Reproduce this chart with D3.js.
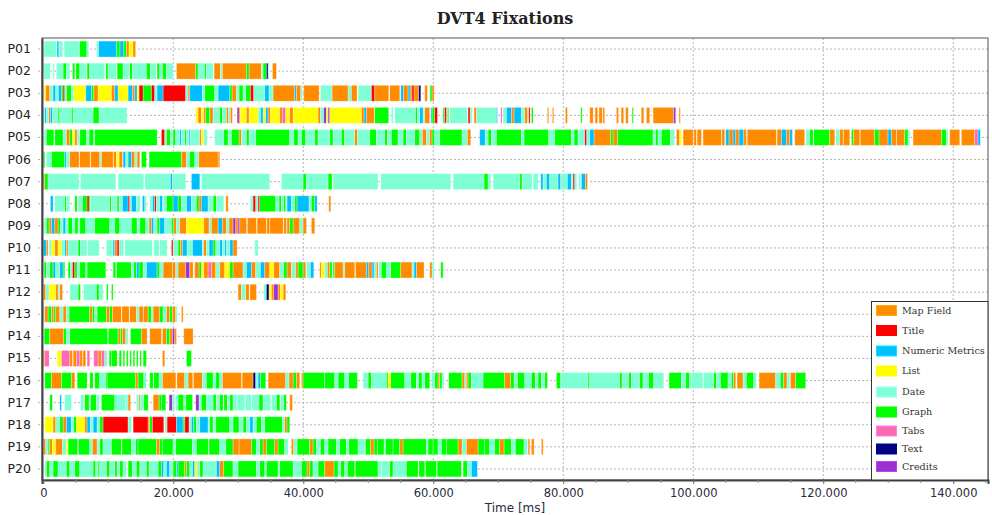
<!DOCTYPE html>
<html>
<head>
<meta charset="utf-8">
<script src="https://cdn.jsdelivr.net/npm/d3@7"></script>
<style>
  body { margin: 0; background: #fff; }
  svg text { fill: #222; }
</style>
</head>
<body>
<div id="chart"></div>
<script>
// fixation segments per participant: [start s, end s, area code]
var p01 = [[0.1,2.0,"D"],[2.1,2.4,"N"],[2.4,3.0,"D"],[3.2,5.6,"D"],[5.6,6.7,"G"],[6.7,7.0,"D"],[8.2,8.5,"D"],[8.5,11.3,"N"],[11.3,11.8,"G"],[11.8,12.4,"N"],[12.4,12.8,"G"],[12.8,13.2,"M"],[13.2,13.8,"L"],[13.8,14.2,"M"]];
var p02 = [[0.1,1.1,"D"],[1.5,1.7,"D"],[2.0,3.05,"D"],[3.05,3.56,"G"],[3.56,4.08,"D"],[4.49,4.85,"G"],[5.0,5.62,"G"],[5.62,6.64,"D"],[6.74,7.15,"G"],[7.15,9.46,"D"],[9.62,9.97,"G"],[9.97,11.26,"D"],[11.36,12.28,"G"],[12.28,13.2,"D"],[13.3,13.72,"G"],[13.72,15.87,"D"],[15.87,16.49,"G"],[16.49,17.41,"D"],[17.51,17.92,"G"],[17.92,18.33,"D"],[18.33,18.95,"G"],[18.95,19.97,"D"],[20.49,23.46,"M"],[23.46,23.82,"G"],[23.82,24.85,"D"],[24.85,25.1,"G"],[25.1,26.13,"D"],[26.28,27.26,"M"],[27.26,27.56,"D"],[27.56,31.26,"M"],[31.26,31.67,"G"],[31.67,33.56,"M"],[33.56,33.82,"D"],[33.82,34.33,"G"],[34.33,34.59,"X"],[34.59,34.74,"D"],[35.26,35.87,"M"]];
var p03 = [[0.13,0.38,"L"],[0.38,1.0,"M"],[1.0,1.51,"D"],[1.51,1.92,"N"],[1.92,2.33,"D"],[2.33,2.79,"N"],[2.79,3.05,"G"],[3.05,3.31,"T"],[3.31,3.56,"D"],[3.56,4.33,"G"],[4.33,4.69,"D"],[4.69,6.54,"L"],[6.54,7.41,"N"],[7.41,7.77,"G"],[7.77,8.44,"M"],[8.44,10.49,"L"],[10.49,11.0,"M"],[11.0,11.51,"N"],[11.51,13.05,"L"],[13.05,13.72,"N"],[13.72,14.08,"M"],[14.08,14.44,"N"],[14.44,14.74,"L"],[14.74,15.36,"T"],[15.36,16.64,"G"],[16.64,17.15,"T"],[17.15,17.51,"D"],[17.51,18.44,"N"],[18.44,21.92,"T"],[21.92,22.28,"D"],[22.28,22.54,"M"],[22.54,24.49,"N"],[24.49,24.85,"D"],[24.85,26.38,"G"],[26.38,26.9,"D"],[26.9,28.69,"N"],[28.69,29.05,"G"],[29.05,29.72,"M"],[29.72,30.13,"D"],[30.13,30.74,"G"],[30.74,31.15,"D"],[31.15,31.87,"G"],[31.87,32.38,"T"],[32.38,34.08,"D"],[34.08,34.74,"N"],[34.74,35.36,"D"],[35.36,38.69,"M"],[38.69,38.95,"N"],[38.95,39.62,"M"],[39.62,39.87,"D"],[40.08,42.44,"M"],[42.64,44.44,"D"],[44.44,46.9,"M"],[46.9,47.41,"D"],[47.41,48.28,"M"],[48.44,50.49,"D"],[50.49,51.0,"T"],[51.0,53.15,"M"],[53.31,54.85,"M"],[55.0,55.41,"N"],[55.41,56.13,"M"],[56.13,56.44,"N"],[56.44,56.74,"M"],[56.74,57.05,"T"],[57.05,57.77,"M"],[57.77,58.08,"X"],[58.69,59.1,"M"],[59.51,59.82,"G"],[59.82,60.13,"M"]];
var p04 = [[0.0,0.23,"D"],[0.23,0.49,"N"],[0.49,0.85,"D"],[0.85,1.1,"M"],[1.1,1.41,"N"],[1.41,2.28,"D"],[2.28,2.54,"G"],[2.54,4.33,"D"],[4.33,4.59,"G"],[4.59,7.67,"D"],[7.67,8.59,"G"],[8.59,12.9,"D"],[23.46,23.82,"L"],[23.82,24.33,"M"],[24.33,24.69,"L"],[24.69,25.0,"M"],[25.0,25.62,"G"],[25.62,26.13,"M"],[26.13,27.15,"D"],[27.15,27.56,"G"],[27.56,28.18,"D"],[28.18,28.49,"M"],[28.49,28.79,"D"],[28.79,29.1,"M"],[29.82,30.13,"C"],[30.13,30.33,"M"],[30.33,31.26,"L"],[31.26,31.67,"M"],[31.67,33.05,"L"],[33.05,33.41,"D"],[33.41,33.82,"N"],[33.82,34.23,"L"],[34.23,34.59,"N"],[34.59,34.95,"M"],[34.95,36.38,"L"],[36.38,36.79,"M"],[36.79,37.31,"B"],[37.31,37.92,"L"],[37.92,38.44,"M"],[38.44,42.28,"L"],[42.28,42.64,"M"],[42.64,43.15,"D"],[43.15,43.56,"C"],[43.56,43.82,"L"],[43.82,44.08,"C"],[44.08,48.95,"L"],[48.95,49.36,"M"],[49.36,49.72,"N"],[49.72,50.9,"M"],[51.0,53.15,"G"],[53.56,53.82,"D"],[54.08,57.26,"D"],[57.26,57.56,"G"],[57.56,57.92,"D"],[57.92,58.44,"N"],[58.44,58.69,"D"],[58.69,59.46,"M"],[59.62,59.82,"N"],[59.82,60.23,"G"],[60.23,60.64,"T"],[61.51,61.77,"G"],[61.77,62.03,"T"],[62.18,62.38,"G"],[62.54,65.26,"D"],[65.36,65.67,"T"],[65.67,65.97,"D"],[66.28,66.64,"M"],[66.64,69.72,"D"],[69.72,69.87,"N"],[70.38,70.59,"B"],[70.74,71.26,"D"],[71.26,72.03,"N"],[72.03,72.44,"M"],[72.44,73.56,"N"],[73.56,74.08,"D"],[74.08,74.49,"M"],[74.69,74.9,"T"],[75.1,75.36,"G"],[77.56,77.77,"M"],[78.33,78.54,"M"],[80.33,80.64,"M"],[82.69,82.9,"G"],[84.08,84.6,"M"],[84.9,85.3,"M"],[85.5,86.0,"M"],[86.1,86.38,"M"],[88.18,88.5,"M"],[88.9,89.3,"M"],[89.6,90.0,"M"],[90.59,90.79,"G"],[92.0,92.4,"M"],[92.8,93.3,"M"],[93.82,96.99,"M"],[96.99,97.3,"C"],[97.82,98.02,"M"]];
var p05 = [[0.13,0.49,"D"],[0.49,1.62,"G"],[1.77,3.05,"G"],[3.05,3.56,"D"],[3.56,4.08,"M"],[4.08,4.49,"G"],[4.49,4.85,"L"],[4.85,5.21,"M"],[5.21,5.51,"D"],[5.62,6.64,"G"],[6.74,7.05,"D"],[7.05,7.77,"G"],[7.77,7.92,"D"],[7.92,17.51,"G"],[18.18,18.69,"T"],[18.69,18.95,"D"],[18.95,19.56,"G"],[19.56,19.97,"D"],[19.97,20.38,"G"],[20.38,21.0,"D"],[21.0,21.26,"N"],[21.26,21.77,"D"],[21.77,22.03,"G"],[22.03,22.44,"D"],[22.44,22.64,"N"],[22.64,24.08,"D"],[24.08,24.33,"M"],[24.33,24.69,"L"],[24.69,25.21,"D"],[26.38,27.77,"D"],[27.77,28.44,"G"],[28.44,28.95,"D"],[28.95,30.13,"G"],[30.13,30.49,"M"],[30.49,31.26,"D"],[31.26,31.67,"G"],[31.67,32.69,"D"],[32.69,37.92,"G"],[37.92,38.54,"D"],[38.54,39.21,"G"],[39.21,39.72,"D"],[39.72,40.38,"G"],[40.38,41.77,"D"],[41.77,42.28,"G"],[42.28,44.08,"D"],[44.08,44.59,"G"],[44.59,45.87,"D"],[45.87,46.38,"G"],[46.38,47.92,"D"],[47.92,48.33,"M"],[48.33,50.23,"D"],[50.23,51.26,"G"],[51.26,52.54,"D"],[52.54,52.95,"G"],[52.95,53.56,"D"],[53.56,54.59,"G"],[54.59,55.36,"D"],[55.36,55.87,"G"],[55.87,57.15,"D"],[57.15,57.92,"G"],[57.92,58.33,"D"],[58.33,58.95,"M"],[58.95,59.46,"D"],[59.46,59.82,"M"],[59.82,60.23,"G"],[60.23,61.0,"D"],[61.0,64.44,"G"],[64.44,65.26,"D"],[65.26,65.77,"M"],[67.15,68.0,"N"],[68.0,68.44,"D"],[68.44,68.95,"G"],[68.95,69.72,"D"],[69.72,73.56,"G"],[73.56,73.97,"D"],[73.97,77.77,"G"],[77.77,78.69,"D"],[78.69,81.26,"G"],[81.26,81.67,"D"],[81.67,82.28,"G"],[82.28,83.31,"D"],[83.31,83.62,"T"],[83.62,84.08,"D"],[84.08,84.74,"N"],[84.74,87.31,"M"],[87.31,87.67,"G"],[87.67,88.33,"M"],[88.33,93.82,"G"],[93.82,94.23,"D"],[94.23,94.59,"G"],[94.59,95.1,"D"],[95.1,96.49,"G"],[96.49,97.15,"D"],[97.41,97.92,"M"],[97.92,98.18,"L"],[98.44,99.98,"M"],[100.1,100.49,"M"],[100.6,101.26,"M"],[101.51,104.33,"M"],[104.4,104.85,"M"],[105.0,105.51,"N"],[105.51,106.13,"M"],[106.13,106.54,"N"],[106.54,107.05,"M"],[107.05,107.77,"N"],[107.77,108.18,"M"],[108.3,112.79,"M"],[112.9,113.56,"M"],[113.56,114.33,"N"],[114.33,114.85,"M"],[114.85,115.26,"N"],[115.62,117.15,"M"],[117.31,117.92,"D"],[117.92,118.44,"G"],[118.54,121.0,"G"],[121.0,121.77,"M"],[121.92,122.54,"D"],[122.54,123.05,"M"],[123.1,124.08,"M"],[124.33,124.69,"G"],[124.69,125.62,"M"],[125.7,127.92,"M"],[127.92,128.59,"G"],[128.59,129.97,"M"],[129.97,130.49,"N"],[130.49,131.26,"M"],[131.3,132.54,"M"],[132.54,133.05,"G"],[133.05,133.31,"D"],[133.82,138.18,"M"],[138.18,138.95,"G"],[138.95,139.21,"D"],[139.46,141.0,"M"],[141.26,143.31,"M"],[143.31,143.82,"B"],[143.82,144.18,"N"]];
var p06 = [[0.0,0.23,"G"],[0.49,1.26,"D"],[1.26,3.31,"G"],[3.31,3.56,"N"],[3.56,4.08,"D"],[4.08,5.5,"M"],[5.6,7.2,"M"],[7.3,8.69,"M"],[8.69,8.95,"D"],[8.95,10.74,"M"],[10.8,11.26,"M"],[11.26,11.67,"L"],[11.67,12.18,"M"],[12.28,12.69,"N"],[12.69,13.05,"D"],[13.05,13.56,"N"],[13.56,14.08,"M"],[14.08,14.44,"D"],[14.44,14.85,"M"],[15.1,15.87,"G"],[16.28,21.26,"G"],[21.26,22.03,"M"],[22.03,22.54,"D"],[22.54,23.31,"G"],[23.31,23.92,"D"],[23.92,26.9,"M"],[26.9,27.15,"M"]];
var p07 = [[0.0,0.23,"M"],[0.23,0.74,"G"],[0.74,5.51,"D"],[5.72,11.15,"D"],[11.51,15.46,"D"],[15.62,19.56,"D"],[19.56,19.87,"N"],[19.87,21.92,"D"],[22.79,24.08,"N"],[24.33,34.85,"D"],[36.64,39.97,"D"],[39.97,40.49,"G"],[40.49,43.82,"D"],[43.82,44.44,"G"],[44.59,51.51,"D"],[51.92,62.69,"D"],[63.05,67.82,"D"],[67.82,68.44,"G"],[68.44,68.85,"D"],[69.21,73.31,"D"],[73.31,73.67,"G"],[73.67,75.21,"D"],[75.36,76.13,"D"],[76.54,76.9,"N"],[76.9,77.41,"D"],[77.41,77.92,"N"],[77.92,79.2,"D"],[79.2,79.61,"N"],[79.61,80.64,"D"],[80.64,81.26,"N"],[81.26,81.51,"D"],[81.51,81.77,"T"],[81.77,82.08,"D"],[82.38,82.69,"D"],[82.79,83.41,"N"],[83.41,83.72,"M"]];
var p08 = [[1.1,1.51,"N"],[1.77,3.31,"D"],[3.31,3.56,"G"],[3.56,4.08,"D"],[4.85,5.21,"G"],[5.36,6.03,"D"],[6.03,6.74,"G"],[6.74,7.05,"T"],[7.05,7.26,"G"],[7.26,10.23,"D"],[10.23,10.49,"G"],[10.49,11.36,"D"],[11.36,11.67,"G"],[11.67,12.18,"D"],[12.18,13.05,"N"],[13.05,13.31,"T"],[13.31,13.56,"D"],[13.56,14.33,"N"],[14.33,14.95,"D"],[15.26,15.62,"N"],[15.62,15.87,"D"],[16.38,16.79,"D"],[16.79,17.15,"N"],[17.15,17.41,"T"],[17.41,17.92,"D"],[17.92,18.33,"N"],[18.44,18.95,"D"],[18.95,19.97,"G"],[19.97,20.74,"N"],[20.74,21.26,"G"],[21.26,22.03,"D"],[22.03,22.79,"N"],[22.79,23.56,"D"],[23.56,23.97,"G"],[23.97,24.33,"M"],[24.33,25.36,"N"],[25.36,26.13,"D"],[26.13,26.64,"G"],[26.64,27.77,"D"],[28.08,28.44,"M"],[31.87,32.28,"D"],[32.28,32.69,"T"],[32.69,33.05,"D"],[33.05,33.31,"T"],[33.31,35.77,"G"],[35.77,36.28,"D"],[36.28,36.64,"G"],[36.64,37.0,"D"],[37.0,37.31,"G"],[37.31,37.51,"D"],[37.51,38.18,"N"],[38.18,38.69,"D"],[38.69,39.05,"G"],[39.05,40.9,"N"],[40.9,41.26,"D"],[41.26,41.77,"G"],[41.77,42.13,"N"],[43.92,44.23,"M"]];
var p09 = [[0.13,0.49,"D"],[0.49,0.9,"G"],[0.9,1.26,"M"],[1.26,1.77,"N"],[1.77,2.28,"M"],[2.28,2.64,"G"],[2.64,3.05,"D"],[3.05,3.46,"N"],[3.46,3.82,"D"],[3.82,4.49,"G"],[4.49,4.85,"D"],[4.85,5.36,"G"],[5.36,5.62,"D"],[5.62,6.54,"G"],[6.54,7.92,"D"],[7.92,10.23,"G"],[10.23,11.0,"D"],[11.0,11.77,"G"],[11.77,13.56,"D"],[13.56,14.44,"G"],[14.44,14.85,"D"],[14.85,15.77,"G"],[15.77,16.28,"D"],[16.28,16.64,"M"],[16.64,17.0,"N"],[17.0,17.51,"D"],[17.51,17.92,"G"],[17.92,18.69,"N"],[18.69,19.72,"D"],[19.72,20.08,"G"],[20.08,20.49,"M"],[20.49,21.0,"D"],[21.0,22.03,"M"],[22.03,24.69,"L"],[24.69,25.51,"M"],[25.51,25.87,"D"],[25.87,26.9,"M"],[26.9,27.56,"N"],[27.56,28.18,"M"],[28.18,28.59,"D"],[28.59,29.2,"M"],[29.2,29.62,"C"],[29.62,29.97,"M"],[29.97,30.23,"C"],[30.23,31.26,"M"],[31.4,32.8,"M"],[32.9,34.33,"M"],[34.4,34.85,"M"],[34.85,36.9,"M"],[37.0,37.41,"M"],[37.5,37.92,"M"],[37.92,38.44,"G"],[38.44,39.46,"M"],[39.46,39.97,"D"],[39.97,40.49,"M"],[41.26,41.77,"M"]];
var p10 = [[0.0,0.49,"N"],[0.49,0.74,"M"],[0.9,1.26,"D"],[1.26,1.77,"L"],[1.77,2.28,"M"],[2.28,2.79,"L"],[2.79,3.31,"D"],[3.31,3.56,"N"],[3.56,3.82,"M"],[3.82,5.36,"D"],[5.36,5.72,"G"],[5.72,6.74,"D"],[6.84,8.59,"D"],[9.72,10.74,"D"],[10.74,11.0,"N"],[11.0,11.36,"M"],[11.36,11.67,"T"],[11.67,12.38,"D"],[12.54,16.79,"D"],[17.0,17.82,"D"],[17.92,19.05,"D"],[19.72,19.97,"T"],[19.97,20.74,"D"],[20.74,21.1,"G"],[21.1,21.41,"M"],[21.41,22.13,"N"],[22.13,22.95,"D"],[22.95,24.49,"N"],[24.49,24.69,"D"],[24.69,25.1,"M"],[25.1,25.51,"D"],[25.51,26.13,"N"],[26.13,26.54,"G"],[26.54,27.15,"D"],[27.15,27.56,"N"],[27.56,27.92,"D"],[27.92,28.18,"N"],[28.18,28.69,"D"],[28.69,29.2,"N"],[29.2,29.82,"M"],[32.54,33.05,"D"]];
var p11 = [[0.13,0.49,"G"],[0.49,1.0,"D"],[1.0,1.51,"G"],[1.51,1.92,"N"],[1.92,2.54,"D"],[2.54,3.05,"N"],[3.05,3.31,"G"],[3.82,4.18,"G"],[4.18,4.49,"D"],[4.49,4.85,"T"],[4.85,5.21,"G"],[5.21,5.62,"D"],[5.62,6.54,"G"],[6.54,6.74,"D"],[6.74,9.62,"G"],[10.74,11.15,"G"],[11.26,13.56,"G"],[13.56,13.92,"D"],[13.92,14.33,"G"],[14.33,14.74,"N"],[14.74,15.36,"G"],[15.36,15.87,"D"],[15.87,17.51,"N"],[17.51,17.92,"G"],[17.92,18.44,"D"],[18.44,19.87,"M"],[19.87,20.38,"M"],[20.38,20.74,"D"],[20.74,21.92,"M"],[21.92,22.54,"C"],[22.54,23.05,"M"],[23.31,23.97,"M"],[23.97,24.33,"G"],[24.33,24.69,"L"],[24.69,25.36,"M"],[25.36,25.87,"B"],[25.87,26.54,"M"],[26.54,27.15,"D"],[27.15,27.92,"M"],[27.92,28.69,"L"],[28.69,29.2,"G"],[29.2,30.74,"M"],[30.74,31.26,"D"],[31.26,32.03,"N"],[32.03,32.69,"M"],[32.69,33.41,"D"],[33.41,34.08,"N"],[34.08,34.85,"M"],[34.85,35.46,"L"],[35.46,36.38,"M"],[36.38,37.0,"D"],[37.0,37.51,"G"],[37.51,38.18,"M"],[38.18,38.85,"D"],[38.85,39.21,"M"],[39.21,39.97,"G"],[39.97,40.38,"M"],[40.49,41.1,"D"],[41.1,41.62,"N"],[42.54,42.79,"M"],[42.79,43.31,"L"],[43.31,43.72,"D"],[43.72,44.08,"M"],[44.08,44.44,"G"],[44.59,44.85,"G"],[44.85,46.13,"M"],[46.13,46.38,"D"],[46.38,47.92,"M"],[48.03,49.72,"M"],[49.72,50.08,"N"],[50.08,50.59,"M"],[50.59,50.9,"N"],[50.9,51.26,"D"],[51.26,51.51,"M"],[51.62,52.03,"D"],[52.03,52.8,"G"],[52.8,53.46,"D"],[53.46,55.0,"G"],[55.0,56.74,"M"],[56.74,57.05,"D"],[57.05,57.41,"N"],[57.41,58.59,"M"],[59.46,59.82,"M"],[59.82,60.13,"D"],[61.15,61.51,"G"]];
var p12 = [[0.0,0.38,"M"],[0.38,0.9,"D"],[0.9,1.92,"L"],[1.92,2.28,"M"],[2.28,2.54,"D"],[2.54,2.95,"M"],[4.08,5.36,"D"],[5.36,5.72,"G"],[6.23,8.18,"D"],[8.18,8.59,"G"],[8.59,9.2,"D"],[9.72,9.97,"G"],[10.49,10.74,"G"],[29.97,30.49,"M"],[30.49,31.15,"D"],[31.15,31.67,"M"],[31.8,32.79,"M"],[33.92,34.33,"D"],[34.33,34.74,"X"],[34.74,35.1,"L"],[35.1,35.46,"M"],[35.46,36.13,"C"],[36.13,36.49,"M"],[36.49,36.9,"L"],[36.9,37.31,"M"]];
var p13 = [[0.0,0.23,"D"],[0.23,0.74,"M"],[0.74,1.26,"G"],[1.26,1.62,"M"],[1.62,1.92,"G"],[1.92,2.54,"M"],[2.54,3.05,"D"],[3.05,3.56,"M"],[3.56,3.97,"D"],[3.97,7.15,"G"],[7.15,7.56,"M"],[7.56,7.92,"G"],[7.92,8.28,"D"],[8.28,9.72,"G"],[9.72,10.23,"M"],[10.23,10.64,"G"],[10.64,12.0,"M"],[12.1,13.2,"M"],[13.3,14.33,"M"],[14.33,14.74,"D"],[14.74,15.36,"M"],[15.4,16.13,"M"],[16.13,16.64,"G"],[16.64,16.9,"D"],[16.9,17.92,"M"],[17.92,18.44,"G"],[18.44,18.95,"D"],[18.95,19.46,"M"],[19.46,19.87,"G"],[19.87,20.38,"M"],[20.38,20.59,"D"],[21.26,21.51,"M"]];
var p14 = [[0.13,1.0,"G"],[1.0,3.15,"M"],[3.15,3.56,"G"],[3.56,4.08,"D"],[4.08,9.9,"G"],[10.0,11.51,"G"],[11.51,11.87,"M"],[11.87,12.18,"G"],[12.18,12.69,"M"],[12.69,13.05,"D"],[13.41,15.1,"G"],[15.1,15.97,"M"],[16.38,18.18,"M"],[18.33,18.95,"M"],[18.95,19.46,"G"],[19.46,19.87,"M"],[19.87,20.23,"C"],[20.23,20.49,"M"],[21.62,23.05,"M"]];
var p15 = [[0.0,0.23,"M"],[0.23,0.9,"B"],[2.13,2.79,"L"],[2.79,4.08,"B"],[4.08,4.49,"M"],[4.6,5.1,"M"],[5.1,5.62,"B"],[5.62,6.03,"M"],[6.1,6.54,"M"],[6.74,7.15,"B"],[7.77,8.44,"B"],[8.44,8.95,"M"],[8.95,9.46,"B"],[9.46,9.82,"D"],[10.13,10.49,"G"],[10.49,11.36,"G"],[11.67,12.03,"G"],[12.28,12.54,"G"],[12.79,13.05,"G"],[13.31,13.56,"G"],[13.82,14.08,"G"],[14.33,14.59,"G"],[14.85,15.1,"G"],[15.36,15.87,"G"],[18.33,18.69,"M"],[22.03,22.79,"G"]];
var p16 = [[0.23,1.26,"G"],[1.26,2.79,"M"],[2.79,4.33,"G"],[4.33,4.85,"M"],[5.21,6.74,"G"],[7.15,7.67,"G"],[7.92,8.69,"G"],[8.69,9.62,"D"],[9.62,9.82,"G"],[9.82,14.23,"G"],[14.23,14.59,"M"],[14.59,15.46,"G"],[15.46,15.87,"D"],[16.38,16.9,"G"],[17.0,17.82,"G"],[17.82,18.33,"D"],[18.33,20.4,"M"],[20.55,21.77,"M"],[21.77,22.28,"D"],[22.28,23.0,"M"],[23.1,24.49,"M"],[24.49,25.1,"D"],[25.1,26.13,"G"],[26.13,26.54,"D"],[26.54,27.15,"G"],[27.15,27.56,"D"],[27.56,30.5,"M"],[30.6,32.28,"M"],[32.28,32.69,"X"],[32.69,33.05,"D"],[33.05,33.41,"N"],[33.41,34.23,"G"],[34.59,37.31,"M"],[37.31,37.82,"D"],[37.82,38.44,"M"],[38.44,38.95,"G"],[38.95,39.46,"M"],[39.72,39.97,"M"],[39.97,43.31,"G"],[43.31,44.85,"G"],[44.85,45.36,"D"],[45.36,46.38,"G"],[46.38,46.98,"D"],[46.98,48.33,"G"],[49.21,49.98,"D"],[49.98,50.49,"G"],[50.49,52.8,"D"],[52.8,53.05,"G"],[53.05,53.46,"L"],[53.46,55.62,"G"],[55.62,56.54,"D"],[56.54,57.41,"G"],[57.41,57.77,"D"],[57.77,58.28,"G"],[58.28,58.69,"D"],[58.69,59.46,"G"],[59.72,60.23,"D"],[60.23,60.74,"G"],[60.74,61.0,"M"],[61.0,61.36,"G"],[61.36,61.67,"D"],[62.38,64.44,"G"],[64.44,64.85,"M"],[64.85,65.1,"D"],[65.1,65.36,"M"],[65.36,65.87,"G"],[65.87,67.67,"D"],[67.67,71.0,"G"],[71.0,71.92,"M"],[71.92,72.44,"G"],[72.44,72.95,"D"],[72.95,74.08,"G"],[74.08,75.1,"D"],[75.1,75.72,"G"],[75.72,76.13,"D"],[76.13,76.64,"G"],[76.64,77.15,"D"],[77.15,77.56,"G"],[78.95,79.61,"G"],[79.61,83.82,"D"],[83.82,84.08,"G"],[84.08,88.69,"D"],[88.69,89.05,"G"],[89.05,90.08,"D"],[90.08,90.49,"G"],[90.49,91.77,"D"],[91.77,92.28,"G"],[92.28,93.15,"D"],[93.15,93.92,"G"],[93.92,95.46,"D"],[96.28,98.18,"G"],[98.18,98.85,"D"],[98.85,99.46,"G"],[99.46,99.72,"D"],[99.72,101.5,"D"],[101.6,103.15,"D"],[103.15,103.56,"G"],[103.56,104.18,"D"],[104.18,105.36,"G"],[105.36,105.87,"D"],[105.87,106.23,"G"],[106.23,106.54,"M"],[106.74,107.67,"M"],[107.67,108.18,"D"],[108.18,109.31,"G"],[109.31,109.72,"D"],[110.13,112.69,"M"],[112.69,113.41,"D"],[113.41,113.92,"G"],[113.92,114.44,"M"],[114.44,114.85,"D"],[114.95,115.77,"M"],[115.77,117.31,"G"]];
var p17 = [[1.0,1.41,"G"],[2.54,2.79,"N"],[3.31,4.33,"D"],[5.72,6.23,"D"],[6.38,7.05,"G"],[7.05,7.26,"D"],[7.26,8.18,"G"],[8.18,8.59,"D"],[8.95,11.0,"G"],[11.0,12.69,"D"],[12.69,13.05,"D"],[13.05,13.41,"M"],[14.33,14.74,"D"],[14.74,14.95,"M"],[14.95,15.46,"D"],[15.46,16.13,"G"],[16.9,17.82,"M"],[17.82,18.18,"G"],[18.18,18.85,"G"],[19.36,19.87,"C"],[19.87,20.23,"D"],[20.38,20.74,"D"],[20.74,21.62,"G"],[21.62,21.92,"D"],[21.92,22.95,"G"],[23.46,23.97,"C"],[23.97,24.33,"D"],[24.33,25.1,"G"],[25.1,26.13,"D"],[26.13,26.6,"G"],[26.7,27.1,"D"],[27.1,27.67,"G"],[27.8,28.3,"G"],[28.4,28.7,"D"],[28.7,29.2,"G"],[29.2,29.82,"D"],[29.82,31.0,"D"],[31.1,32.03,"D"],[32.1,33.2,"D"],[33.2,33.82,"G"],[33.82,35.0,"D"],[35.1,35.87,"D"],[35.87,36.4,"G"],[36.5,37.0,"D"],[37.0,37.41,"G"],[37.92,38.33,"M"]];
var p18 = [[0.23,1.51,"L"],[1.51,1.92,"M"],[1.92,2.54,"D"],[2.54,3.05,"G"],[3.05,3.56,"M"],[3.56,4.33,"N"],[4.33,4.69,"D"],[4.69,5.1,"G"],[5.1,6.38,"L"],[6.38,6.74,"M"],[6.74,7.26,"N"],[7.26,7.67,"D"],[7.67,8.28,"N"],[8.28,8.69,"D"],[8.69,9.2,"G"],[9.2,13.05,"T"],[13.05,13.56,"D"],[13.82,16.13,"T"],[16.13,16.38,"M"],[16.38,16.79,"G"],[16.79,18.54,"T"],[18.69,19.05,"D"],[19.05,20.49,"T"],[20.49,21.51,"N"],[21.51,21.77,"G"],[21.77,22.44,"T"],[22.44,22.79,"D"],[22.79,23.15,"N"],[23.15,23.56,"G"],[23.56,24.08,"D"],[24.08,25.36,"N"],[25.36,25.62,"D"],[25.62,26.13,"G"],[26.13,26.54,"D"],[26.54,28.69,"G"],[28.69,29.2,"D"],[29.2,30.13,"G"],[30.13,30.74,"D"],[30.74,31.26,"G"],[31.26,31.77,"D"],[31.77,32.28,"N"],[32.28,32.79,"D"],[32.79,33.56,"G"],[33.56,34.08,"D"],[34.08,36.79,"G"],[36.79,37.15,"D"],[37.15,37.5,"M"],[37.5,37.92,"G"]];
var p19 = [[0.0,0.38,"M"],[0.38,0.74,"D"],[0.74,1.0,"G"],[1.0,1.41,"M"],[1.41,1.92,"L"],[1.92,2.95,"M"],[2.95,3.56,"D"],[3.56,3.82,"L"],[3.82,5.3,"G"],[5.4,7.15,"G"],[7.15,7.56,"D"],[7.56,8.28,"M"],[8.28,8.59,"D"],[8.69,9.2,"G"],[9.2,10.49,"D"],[10.49,12.0,"G"],[12.1,13.56,"G"],[13.56,14.23,"D"],[14.23,14.59,"G"],[14.59,17.41,"G"],[17.41,17.92,"M"],[17.92,18.33,"G"],[18.33,19.97,"G"],[19.97,20.38,"D"],[20.38,22.95,"G"],[22.95,23.56,"D"],[23.56,25.4,"G"],[25.5,27.15,"G"],[27.15,28.08,"D"],[28.08,29.2,"G"],[29.2,30.13,"M"],[30.13,32.03,"M"],[32.03,32.79,"G"],[32.79,33.31,"D"],[33.31,33.82,"G"],[33.82,34.33,"M"],[34.33,35.62,"G"],[35.62,36.13,"M"],[36.13,37.15,"G"],[37.15,37.67,"D"],[38.18,38.54,"M"],[38.54,39.05,"D"],[39.05,41.0,"G"],[41.0,41.51,"M"],[41.51,42.03,"G"],[42.03,42.54,"D"],[42.64,43.31,"G"],[43.31,43.82,"D"],[43.82,45.1,"G"],[45.1,45.62,"D"],[45.62,46.64,"G"],[46.64,47.0,"D"],[47.0,48.44,"G"],[48.44,49.46,"D"],[49.56,50.38,"G"],[50.38,50.9,"M"],[50.9,51.41,"G"],[51.41,52.44,"G"],[52.44,52.64,"D"],[52.64,53.82,"G"],[53.82,54.85,"G"],[54.85,55.36,"M"],[55.36,58.95,"G"],[58.95,59.2,"D"],[59.2,59.98,"G"],[59.98,60.74,"G"],[60.74,61.26,"D"],[61.26,62.03,"G"],[62.03,63.82,"G"],[63.82,64.44,"M"],[64.44,65.1,"D"],[65.1,66.9,"M"],[66.9,67.92,"G"],[67.92,68.69,"G"],[68.69,69.46,"D"],[69.46,70.23,"G"],[70.23,70.9,"M"],[70.9,72.03,"G"],[72.03,72.54,"D"],[72.64,73.97,"G"],[73.97,74.49,"D"],[74.59,74.85,"M"],[75.1,75.51,"M"],[76.64,76.9,"M"]];
var p20 = [[0.23,0.49,"D"],[0.49,1.0,"G"],[1.0,1.51,"D"],[1.51,2.28,"G"],[2.28,3.56,"D"],[3.56,4.08,"G"],[4.08,4.85,"D"],[4.85,5.62,"G"],[5.62,7.67,"D"],[7.67,8.08,"G"],[8.08,8.44,"D"],[8.44,8.69,"G"],[8.69,9.72,"D"],[9.72,10.23,"G"],[10.23,11.0,"D"],[11.0,11.36,"G"],[11.36,11.77,"D"],[11.77,12.28,"G"],[12.28,12.79,"D"],[13.05,13.72,"G"],[13.72,14.33,"D"],[14.33,14.85,"G"],[14.85,15.87,"D"],[15.87,16.28,"G"],[16.28,17.67,"D"],[17.67,18.18,"G"],[18.18,18.54,"N"],[18.54,18.95,"D"],[18.95,19.46,"N"],[19.46,19.97,"D"],[19.97,20.49,"G"],[20.49,20.74,"N"],[20.74,21.77,"G"],[21.77,22.03,"M"],[22.03,22.54,"G"],[22.54,22.95,"D"],[22.95,23.31,"N"],[23.31,23.67,"L"],[23.67,24.08,"D"],[24.08,24.59,"G"],[24.59,26.64,"D"],[26.64,27.15,"N"],[27.15,27.77,"M"],[27.77,29.2,"G"],[29.2,29.97,"D"],[29.97,32.79,"G"],[32.79,33.31,"D"],[33.31,34.08,"G"],[34.08,34.33,"D"],[34.33,36.13,"G"],[36.13,36.38,"D"],[36.38,38.44,"G"],[38.44,39.72,"D"],[39.72,40.59,"G"],[40.59,41.0,"M"],[41.0,41.51,"G"],[41.51,42.28,"D"],[42.28,43.31,"G"],[43.31,44.74,"M"],[44.74,45.36,"G"],[45.36,45.77,"D"],[45.77,46.38,"G"],[46.38,46.79,"D"],[46.79,47.92,"G"],[48.0,51.51,"G"],[51.51,52.03,"D"],[52.03,53.31,"D"],[53.31,53.82,"G"],[53.82,55.87,"D"],[55.87,57.67,"G"],[57.8,58.69,"G"],[58.8,60.49,"G"],[60.6,64.33,"G"],[64.59,65.26,"G"],[65.26,65.87,"D"],[65.87,66.79,"N"]];

var participants = ["P01","P02","P03","P04","P05","P06","P07","P08","P09","P10","P11","P12","P13","P14","P15","P16","P17","P18","P19","P20"];
var rows = [p01,p02,p03,p04,p05,p06,p07,p08,p09,p10,p11,p12,p13,p14,p15,p16,p17,p18,p19,p20];

var areaCodes = ["M","T","N","L","D","G","B","X","C"];
var areaNames = ["Map Field","Title","Numeric Metrics","List","Date","Graph","Tabs","Text","Credits"];
var areaColors = ["#ff8c00","#ff0000","#00bfff","#ffff00","#7fffd4","#00ff00","#ff69b4","#000080","#9932cc"];

var xTicks = [0,20000,40000,60000,80000,100000,120000,140000];
var xMinorTicks = d3.range(0, 145001, 5000);
var xMin = -200, xMax = 145350;

// size of the picture
var W = 992, H = 515;
var plot = {left: 42, right: 988, top: 38, bottom: 480};

var svg = d3.select("#chart").append("svg")
  .attr("width", W)
  .attr("height", H);

var x = d3.scaleLinear().domain([xMin, xMax]).range([plot.left, plot.right]);
var y = d3.scaleBand().domain(participants)
  .range([plot.top, plot.bottom])
  .paddingInner(0.28).paddingOuter(0.14);
var color = d3.scaleOrdinal().domain(areaCodes).range(areaColors);
var areaName = d3.scaleOrdinal().domain(areaCodes).range(areaNames);

// title
svg.append("text")
  .attr("x", 505).attr("y", 24)
  .attr("text-anchor", "middle")
  .style("font-family", "'DejaVu Serif', serif")
  .style("font-weight", "bold")
  .style("font-size", "16px")
  .text("DVT4 Fixations");

// grid
var grid = svg.append("g");
grid.selectAll("line.h")
  .data(participants).enter().append("line")
  .attr("x1", plot.left - 4).attr("x2", plot.right)
  .attr("y1", function(d) { return y(d) + y.bandwidth() / 2; })
  .attr("y2", function(d) { return y(d) + y.bandwidth() / 2; })
  .attr("stroke", "#b4b4b4").attr("stroke-dasharray", "2,2");
grid.selectAll("line.v")
  .data(xTicks.slice(1)).enter().append("line")
  .attr("x1", function(d) { return x(d); }).attr("x2", function(d) { return x(d); })
  .attr("y1", plot.top).attr("y2", plot.bottom)
  .attr("stroke", "#b4b4b4").attr("stroke-dasharray", "2,2");

// bars
var rowG = svg.selectAll("g.row")
  .data(rows).enter().append("g")
  .attr("transform", function(d, i) { return "translate(0," + y(participants[i]) + ")"; });

rowG.selectAll("rect")
  .data(function(d) { return d; })
  .enter().append("rect")
    .attr("x", function(d) { return x(d[0] * 1000); })
    .attr("width", function(d) { return Math.max(0.8, x(d[1] * 1000) - x(d[0] * 1000)); })
    .attr("y", 0)
    .attr("height", y.bandwidth())
    .attr("fill", function(d) { return color(d[2]); })
    .attr("stroke", "#fff")
    .attr("stroke-width", 0.7)
    .attr("stroke-opacity", 0.4);

// frame
svg.append("rect")
  .attr("x", plot.left).attr("y", plot.top)
  .attr("width", plot.right - plot.left).attr("height", plot.bottom - plot.top)
  .attr("fill", "none").attr("stroke", "#555").attr("stroke-width", 1);

// x axis
var xAxis = svg.append("g")
  .attr("transform", "translate(0," + plot.bottom + ")")
  .call(d3.axisBottom(x).tickValues(xTicks).tickSize(4)
    .tickFormat(function(d) { return d3.format(",")(d).replace(/,/g, "."); }));
xAxis.select(".domain").attr("stroke", "#444").attr("stroke-width", 2);
xAxis.selectAll(".tick line").attr("stroke", "#666");
xAxis.selectAll("text")
  .attr("dy", "0.9em")
  .style("font-family", "'DejaVu Sans', sans-serif")
  .style("font-size", "11.5px")
  .style("fill", "#2b2b3b");
svg.append("g").selectAll("line")
  .data(xMinorTicks.filter(function(d) { return xTicks.indexOf(d) < 0; }))
  .enter().append("line")
  .attr("x1", function(d) { return x(d); }).attr("x2", function(d) { return x(d); })
  .attr("y1", plot.bottom).attr("y2", plot.bottom + 3)
  .attr("stroke", "#888");

svg.append("text")
  .attr("x", 515).attr("y", 512)
  .attr("text-anchor", "middle")
  .style("font-family", "'DejaVu Sans', sans-serif")
  .style("font-size", "12px")
  .style("fill", "#2b2b3b")
  .text("Time [ms]");

// y axis
var yAxis = svg.append("g")
  .attr("transform", "translate(" + plot.left + ",0)")
  .call(d3.axisLeft(y).tickSize(0).tickPadding(11));
yAxis.select(".domain").attr("stroke", "#444").attr("stroke-width", 2);
yAxis.selectAll("text")
  .style("font-family", "'DejaVu Sans', sans-serif")
  .style("font-size", "12.5px")
  .style("fill", "#222");

// legend
var legendRowY = [310.5, 330.5, 351, 371, 392, 412, 431, 449, 466.5];
var ly = d3.scaleOrdinal().domain(areaCodes).range(legendRowY);
var legend = svg.append("g");
legend.append("rect")
  .attr("x", 871.5).attr("y", 301.5)
  .attr("width", plot.right - 871.5).attr("height", plot.bottom - 301.5)
  .attr("fill", "#fff").attr("stroke", "#333");
var li = legend.selectAll("g.item")
  .data(areaCodes).enter().append("g")
  .attr("transform", function(d) { return "translate(876," + ly(d) + ")"; });
li.append("rect")
  .attr("x", 0.5).attr("y", -5)
  .attr("width", 20).attr("height", 10)
  .attr("fill", function(d) { return color(d); })
  .attr("stroke", function(d) { return d3.color(color(d)).brighter(0.6); })
  .attr("stroke-width", 1);
li.append("text")
  .attr("x", 26).attr("y", 0).attr("dy", "0.35em")
  .style("font-family", "'DejaVu Serif', serif")
  .style("font-size", "9.6px")
  .style("fill", "#333")
  .text(function(d) { return areaName(d); });
</script>
</body>
</html>
